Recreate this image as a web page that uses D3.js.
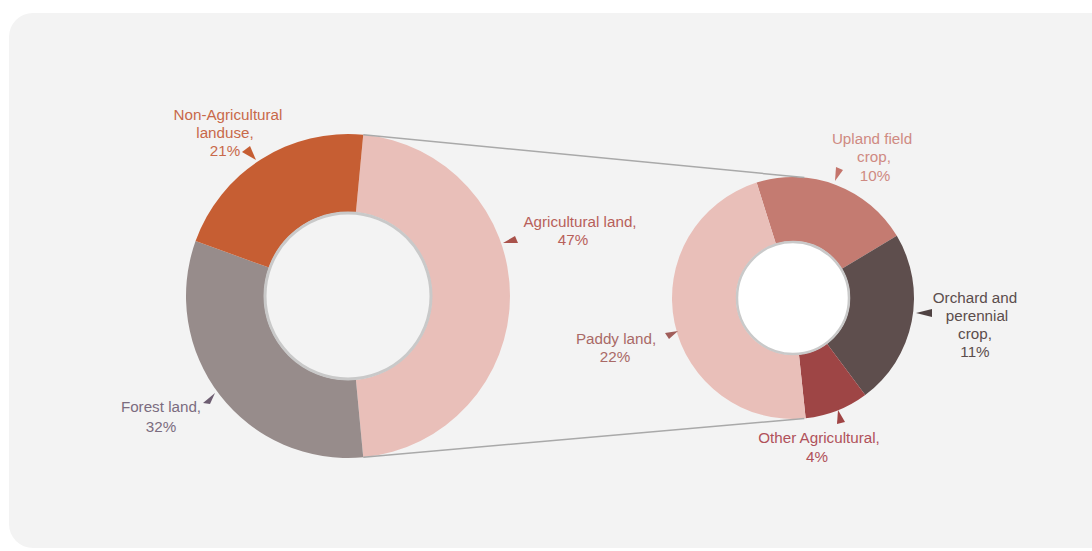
<!DOCTYPE html>
<html>
<head>
<meta charset="utf-8">
<script src="https://cdn.jsdelivr.net/npm/d3@7"></script>
<style>
  html, body { margin: 0; padding: 0; background: #ffffff; }
  svg { display: block; font-family: "Liberation Sans", Arial, sans-serif; }
</style>
</head>
<body>
<svg id="chart" width="1092" height="551"></svg>
<script>
// Land use shares (% of total area)
const mainCategories = ["Agricultural land", "Forest land", "Non-Agricultural landuse"];
const mainValues = [47, 32, 21];

// Breakdown of agricultural land (% of total area)
const agriCategories = ["Upland field crop", "Orchard and perennial crop", "Other Agricultural", "Paddy land"];
const agriValues = [10, 11, 4, 22];

const mainColors = { "Agricultural land": "#e9bfb9", "Forest land": "#978c8b", "Non-Agricultural landuse": "#c65e33" };
const agriColors = { "Upland field crop": "#c47b71", "Orchard and perennial crop": "#5e4e4d", "Other Agricultural": "#9e4545", "Paddy land": "#e9bfb9" };

const svg = d3.select("#chart");
const rad = d => d * Math.PI / 180;

// panel
svg.append("rect").attr("x", 9).attr("y", 13).attr("width", 1120).attr("height", 535)
  .attr("rx", 24).attr("ry", 24).attr("fill", "#f3f3f3");

// ---- main donut ----
const c1 = { x: 348, y: 296, r: 162, ir: 84 };
const agriShare = mainValues[0] / d3.sum(mainValues);
const start1 = Math.PI / 2 - agriShare * Math.PI;   // agricultural slice centred on the right
const pie1 = d3.pie().sort(null).startAngle(start1).endAngle(start1 + 2 * Math.PI);
const arcs1 = pie1(mainValues);
const arc1 = d3.arc().innerRadius(c1.ir).outerRadius(c1.r);

const g1 = svg.append("g").attr("transform", `translate(${c1.x},${c1.y})`);
g1.selectAll("path").data(arcs1).join("path")
  .attr("d", arc1).attr("fill", (d, i) => mainColors[mainCategories[i]]);
g1.append("circle").attr("r", c1.ir - 1).attr("fill", "#f3f3f3")
  .attr("stroke", "#c9c9c9").attr("stroke-width", 3);

// ---- breakdown donut ----
const c2 = { x: 793, y: 298, r: 121, ir: 57 };
const start2 = rad(-17.5);
const pie2 = d3.pie().sort(null).startAngle(start2).endAngle(start2 + 2 * Math.PI);
const arcs2 = pie2(agriValues);
const arc2 = d3.arc().innerRadius(c2.ir).outerRadius(c2.r);

const g2 = svg.append("g").attr("transform", `translate(${c2.x},${c2.y})`);
g2.selectAll("path").data(arcs2).join("path")
  .attr("d", arc2).attr("fill", (d, i) => agriColors[agriCategories[i]]);
g2.append("circle").attr("r", c2.ir - 1).attr("fill", "#ffffff")
  .attr("stroke", "#c9c9c9").attr("stroke-width", 2.5);

// ---- connector lines between the agricultural slice and the breakdown ----
const agriArc = arcs1[0];
const pt = (c, r, a) => [c.x + r * Math.sin(a), c.y - r * Math.cos(a)];
[agriArc.startAngle, agriArc.endAngle].forEach(a => {
  const p1 = pt(c1, c1.r, a), p2 = pt(c2, c2.r, a);
  svg.append("line").attr("x1", p1[0]).attr("y1", p1[1]).attr("x2", p2[0]).attr("y2", p2[1])
    .attr("stroke", "#a9a9a9").attr("stroke-width", 1.5);
});

// ---- callout labels ----
const fmt = v => v + "%";
const labelLayout = [
  { cat: "Non-Agricultural landuse", val: mainValues[2], color: "#c8694a", tri: "#c65e33",
    lines: [["Non-Agricultural", 228, 120], ["landuse,", 225, 138]], pct: [225, 156],
    arrow: [[242, 152], [250, 146], [256, 160]] },
  { cat: "Agricultural land", val: mainValues[0], color: "#b8605a", tri: "#a9524b",
    lines: [["Agricultural land,", 580, 227]], pct: [573, 245],
    arrow: [[503, 243], [515, 236], [518, 243]] },
  { cat: "Forest land", val: mainValues[1], color: "#7b6c7f", tri: "#6d5d71",
    lines: [["Forest land,", 161, 412]], pct: [161, 432],
    arrow: [[215, 393], [203, 403], [210, 404]] },
  { cat: "Upland field crop", val: agriValues[0], color: "#cf8a82", tri: "#c4746b",
    lines: [["Upland field", 872, 144], ["crop,", 874, 162]], pct: [875, 181],
    arrow: [[836, 167], [843, 170], [835, 181]] },
  { cat: "Orchard and perennial crop", val: agriValues[1], color: "#5b4d4c", tri: "#4f4242",
    lines: [["Orchard and", 975, 303], ["perennial", 977, 321], ["crop,", 975, 339]], pct: [975, 357],
    arrow: [[916, 313], [932, 309], [932, 317]] },
  { cat: "Paddy land", val: agriValues[3], color: "#a96966", tri: "#a05d5a",
    lines: [["Paddy land,", 616, 344]], pct: [615, 362],
    arrow: [[665, 333], [678, 331], [669, 339]] },
  { cat: "Other Agricultural", val: agriValues[2], color: "#b0515a", tri: "#a04444",
    lines: [["Other Agricultural,", 819, 443]], pct: [817, 462],
    arrow: [[838, 410], [837, 424], [845, 422]] }
];

const lab = svg.append("g").attr("font-size", "15.2px").attr("text-anchor", "middle");
labelLayout.forEach(L => {
  L.lines.forEach(([t, x, y]) => lab.append("text").attr("x", x).attr("y", y).attr("fill", L.color).text(t));
  lab.append("text").attr("x", L.pct[0]).attr("y", L.pct[1]).attr("fill", L.color).text(fmt(L.val));
  svg.append("path").attr("d", "M" + L.arrow.map(p => p.join(",")).join("L") + "Z").attr("fill", L.tri);
});
</script>
</body>
</html>
